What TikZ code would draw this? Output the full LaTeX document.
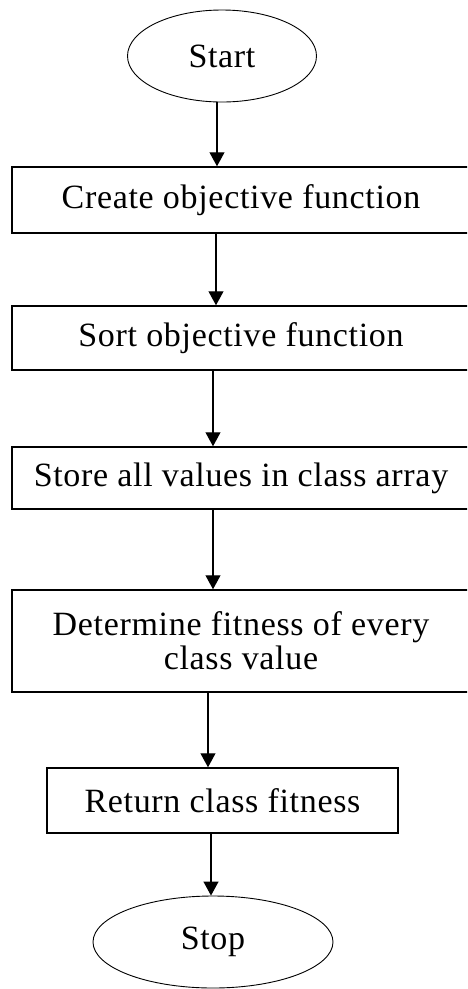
\documentclass[tikz,border=0pt]{standalone}
\usepackage{fontspec}
\setmainfont[LetterSpace=2]{Liberation Serif}
\usetikzlibrary{shapes.geometric,arrows.meta}

\tikzset{
  terminal/.style={ellipse,draw,line width=0.9pt,inner sep=0pt},
  process/.style={rectangle,draw,line width=1.5pt,inner sep=0pt,align=center},
  flow/.style={-{Triangle[width=15pt,length=14pt]},line width=1.2pt},
}

\begin{document}
\begin{tikzpicture}[x=1pt,y=-1pt,font=\fontsize{34}{34}\selectfont]
    \clip (0,0) rectangle (467,989);
    \node[terminal,minimum width=189pt,minimum height=92pt] (start) at (222,56) {Start};
    \node[process,minimum width=458pt,minimum height=66pt] (create) at (241,200) {Create objective function};
    \node[process,minimum width=458pt,minimum height=64pt] (sort) at (241,338) {Sort objective function};
    \node[process,minimum width=458pt,minimum height=62pt] (store) at (241,478) {Store all values in class array};
    \node[process,minimum width=458pt,minimum height=102pt] (fitness) at (241,641) {Determine fitness of every\\class value};
    \node[process,minimum width=351pt,minimum height=65pt] (return) at (222.5,800.5) {Return class fitness};
    \node[terminal,minimum width=240pt,minimum height=92pt] (stop) at (213,942) {Stop};
    \draw[flow] (start.south -| 217,0) -- (create.north -| 217,0);
    \draw[flow] (create.south -| 216,0) -- (sort.north -| 216,0);
    \draw[flow] (sort.south -| 213,0) -- (store.north -| 213,0);
    \draw[flow] (store.south -| 213,0) -- (fitness.north -| 213,0);
    \draw[flow] (fitness.south -| 208,0) -- (return.north -| 208,0);
    \draw[flow] (return.south -| 211,0) -- (stop.north -| 211,0);
  \end{tikzpicture}
\end{document}
